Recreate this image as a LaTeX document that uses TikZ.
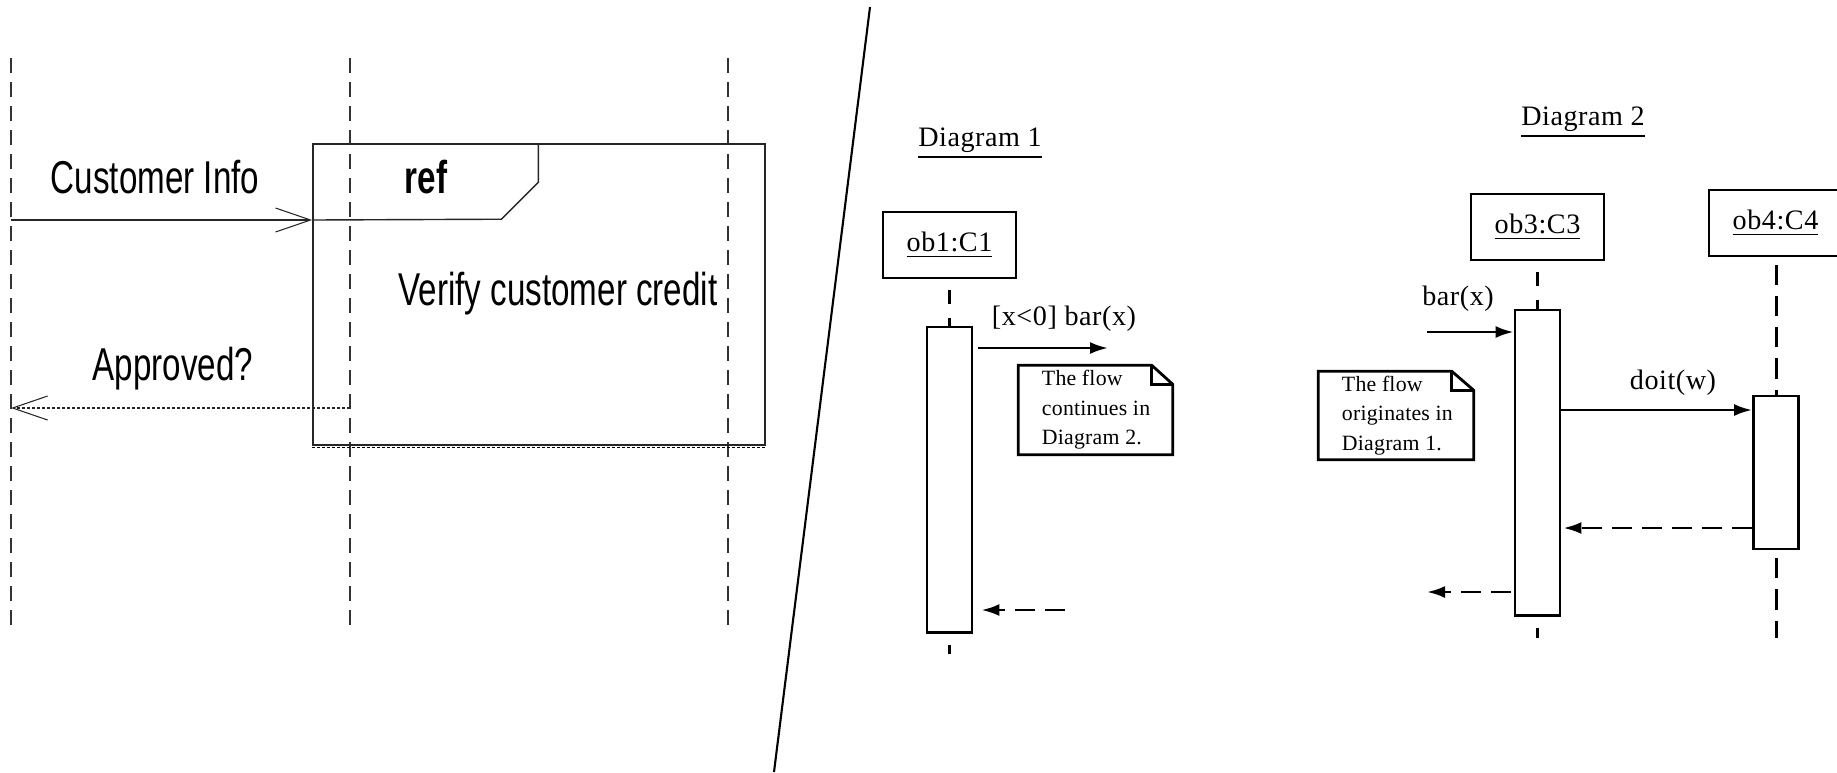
\documentclass[tikz,border=0pt]{standalone}
\usepackage{fontspec}
\setmainfont{Liberation Serif}
\newfontfamily\framesans{Liberation Sans}[FakeStretch=0.72]
\newfontfamily\umlserif{Liberation Serif}[LetterSpace=2]
\newfontfamily\noteserif{Liberation Serif}[LetterSpace=1]
\usetikzlibrary{arrows.meta}

\tikzset{
  % interaction-use frame (left)
  thinlife/.style={line width=0.3pt, black!80, dash pattern=on 0.15cm off 0.09cm},
  framepen/.style={line width=0.4pt, black!85},
  openhead/.style={-{Straight Barb[length=0.35cm,width=0.24cm,line width=0.3pt]}},
  dotreply/.style={dash pattern=on 0.03cm off 0.02cm},
  framelabel/.style={font=\framesans\fontsize{13.1pt}{15pt}\selectfont, inner sep=0, anchor=base},
  framebold/.style={font=\framesans\bfseries\fontsize{13.1pt}{15pt}\selectfont, inner sep=0, anchor=base},
  refframe/.style={draw, framepen, inner sep=0},
  % gate diagrams (right)
  objbox/.style={draw, line width=0.8pt, minimum width=1.33cm, minimum height=0.66cm, inner sep=0,
                 font=\umlserif\fontsize{8pt}{9.6pt}\selectfont},
  actbox/.style={draw, line width=0.8pt, minimum width=0.45cm, inner sep=0},
  life/.style={line width=0.85pt, dash pattern=on 0.14cm off 0.14cm, dash phase=0.17cm},
  longlife/.style={line width=0.85pt, dash pattern=on 0.2cm off 0.11cm, dash phase=0.23cm},
  msg/.style={line width=0.75pt, -{Latex[length=0.18cm,width=0.12cm]}},
  reply/.style={msg, dash pattern=on 0.2cm off 0.1cm},
  umllabel/.style={font=\umlserif\fontsize{8pt}{9.6pt}\selectfont, inner sep=0, anchor=base},
  notepen/.style={line width=0.8pt},
  noteshape/.style={minimum width=1.53cm, minimum height=0.88cm, inner sep=0},
  notetext/.style={font=\noteserif\fontsize{6.2pt}{8.4pt}\selectfont, align=left, inner sep=0, anchor=west}
}

\begin{document}
\begin{tikzpicture}[x=0.01cm,y=-0.01cm]
\useasboundingbox (0,0) rectangle (1837,772);
\clip (0,0) rectangle (1837,772);

% ---------- interaction use: Verify customer credit ----------
\foreach \n/\x in {la/11,lb/350,lc/728}{
  \coordinate (\n-top) at (\x,58);
  \coordinate (\n-bot) at (\x,628);
  \draw[thinlife] (\n-top) -- (\n-bot);
}

\node[refframe, minimum width=4.52cm, minimum height=3.01cm] (ref) at (539,294.5) {};
\draw[line width=0.3pt, dotreply] ([yshift=-0.02cm]ref.south west) -- ([yshift=-0.02cm]ref.south east);
\coordinate (cimsg) at (11,220);
\draw[framepen] ([xshift=2.26cm]ref.north west) -- ++(0,39) -- ++(-37,37) -- (cimsg -| ref.west);
\node[framebold] (reflabel) at (426,193) {ref};
\node[framelabel] (refbody) at (558,305) {Verify customer credit};

\node[framelabel] (cilabel) at (155,193) {Customer Info};
\draw[framepen, openhead] (cimsg) -- (cimsg -| ref.west);

\node[framelabel] (aplabel) at (173,380) {Approved?};
\coordinate (apmsg) at (11,408);
\draw[framepen, dotreply, openhead] (apmsg -| lb-top) -- (apmsg);

% ---------- divider ----------
\coordinate (divtop) at (870,7);
\coordinate (divbot) at (774,772);
\draw[line width=0.6pt] (divtop) -- (divbot);

% ---------- Diagram 1 ----------
\node[umllabel] (title1) at (980,146) {\underline{Diagram 1}};
\node[objbox] (ob1) at (949.5,245) {\underline{ob1:C1}};
\node[actbox, minimum height=3.05cm] (act1) at (949.5,479.5) {};
\coordinate (ob1end) at (949.5,654);
\draw[life] (ob1.south) -- (act1.north);
\draw[life] (act1.south) -- (ob1end);

\coordinate (m1) at (1108,348);
\draw[msg, shorten <=0.05cm] (act1.east |- m1) -- (m1);
\node[umllabel] (m1label) at (1064,325) {[x<0] bar(x)};

\node[noteshape] (note1) at (1095.5,410) {};
\draw[notepen] (note1.north west) -- ([xshift=-0.21cm]note1.north east)
  -- ([yshift=-0.19cm]note1.north east) -- (note1.south east) -- (note1.south west) -- cycle;
\draw[notepen] ([xshift=-0.21cm]note1.north east) |- ([yshift=-0.19cm]note1.north east);
\node[notetext] (note1text) at ([xshift=0.23cm]note1.west) {The flow\\continues in\\Diagram 2.};

\coordinate (r1) at (1065,610);
\draw[reply, shorten >=0.08cm] (r1) -- (r1 -| act1.east);

% ---------- Diagram 2 ----------
\node[umllabel] (title2) at (1583,125) {\underline{Diagram 2}};
\node[objbox] (ob3) at (1537.5,227) {\underline{ob3:C3}};
\node[objbox] (ob4) at (1775.5,223) {\underline{ob4:C4}};
\node[actbox, minimum height=3.05cm] (act3) at (1537.5,462.5) {};
\node[actbox, minimum height=1.53cm] (act4) at (1776,472.5) {};
\coordinate (ob3end) at (1537.5,638);
\coordinate (ob4end) at (1776,638);
\draw[life] (ob3.south) -- (act3.north);
\draw[life] (act3.south) -- (ob3end);
\draw[longlife] (ob4.south -| act4.north) -- (act4.north);
\draw[longlife] (act4.south) -- (ob4end);

\coordinate (m2) at (1427,332);
\draw[msg] (m2) -- (m2 -| act3.west);
\node[umllabel] (m2label) at (1458,305) {bar(x)};

\node[noteshape, minimum width=1.54cm, minimum height=0.87cm] (note2) at (1396,415.5) {};
\draw[notepen] (note2.north west) -- ([xshift=-0.22cm]note2.north east)
  -- ([yshift=-0.19cm]note2.north east) -- (note2.south east) -- (note2.south west) -- cycle;
\draw[notepen] ([xshift=-0.22cm]note2.north east) |- ([yshift=-0.19cm]note2.north east);
\node[notetext] (note2text) at ([xshift=0.23cm]note2.west) {The flow\\originates in\\Diagram 1.};

\coordinate (m3) at (1650,410);
\draw[msg] (m3 -| act3.east) -- (m3 -| act4.west);
\node[umllabel] (m3label) at (1673,389) {doit(w)};

\coordinate (r2) at (1650,528);
\draw[reply, shorten >=0.02cm] (r2 -| act4.west) -- (r2 -| act3.east);

\coordinate (r3) at (1427,592);
\draw[reply, shorten <=0.03cm] (r3 -| act3.west) -- (r3);
\end{tikzpicture}
\end{document}
